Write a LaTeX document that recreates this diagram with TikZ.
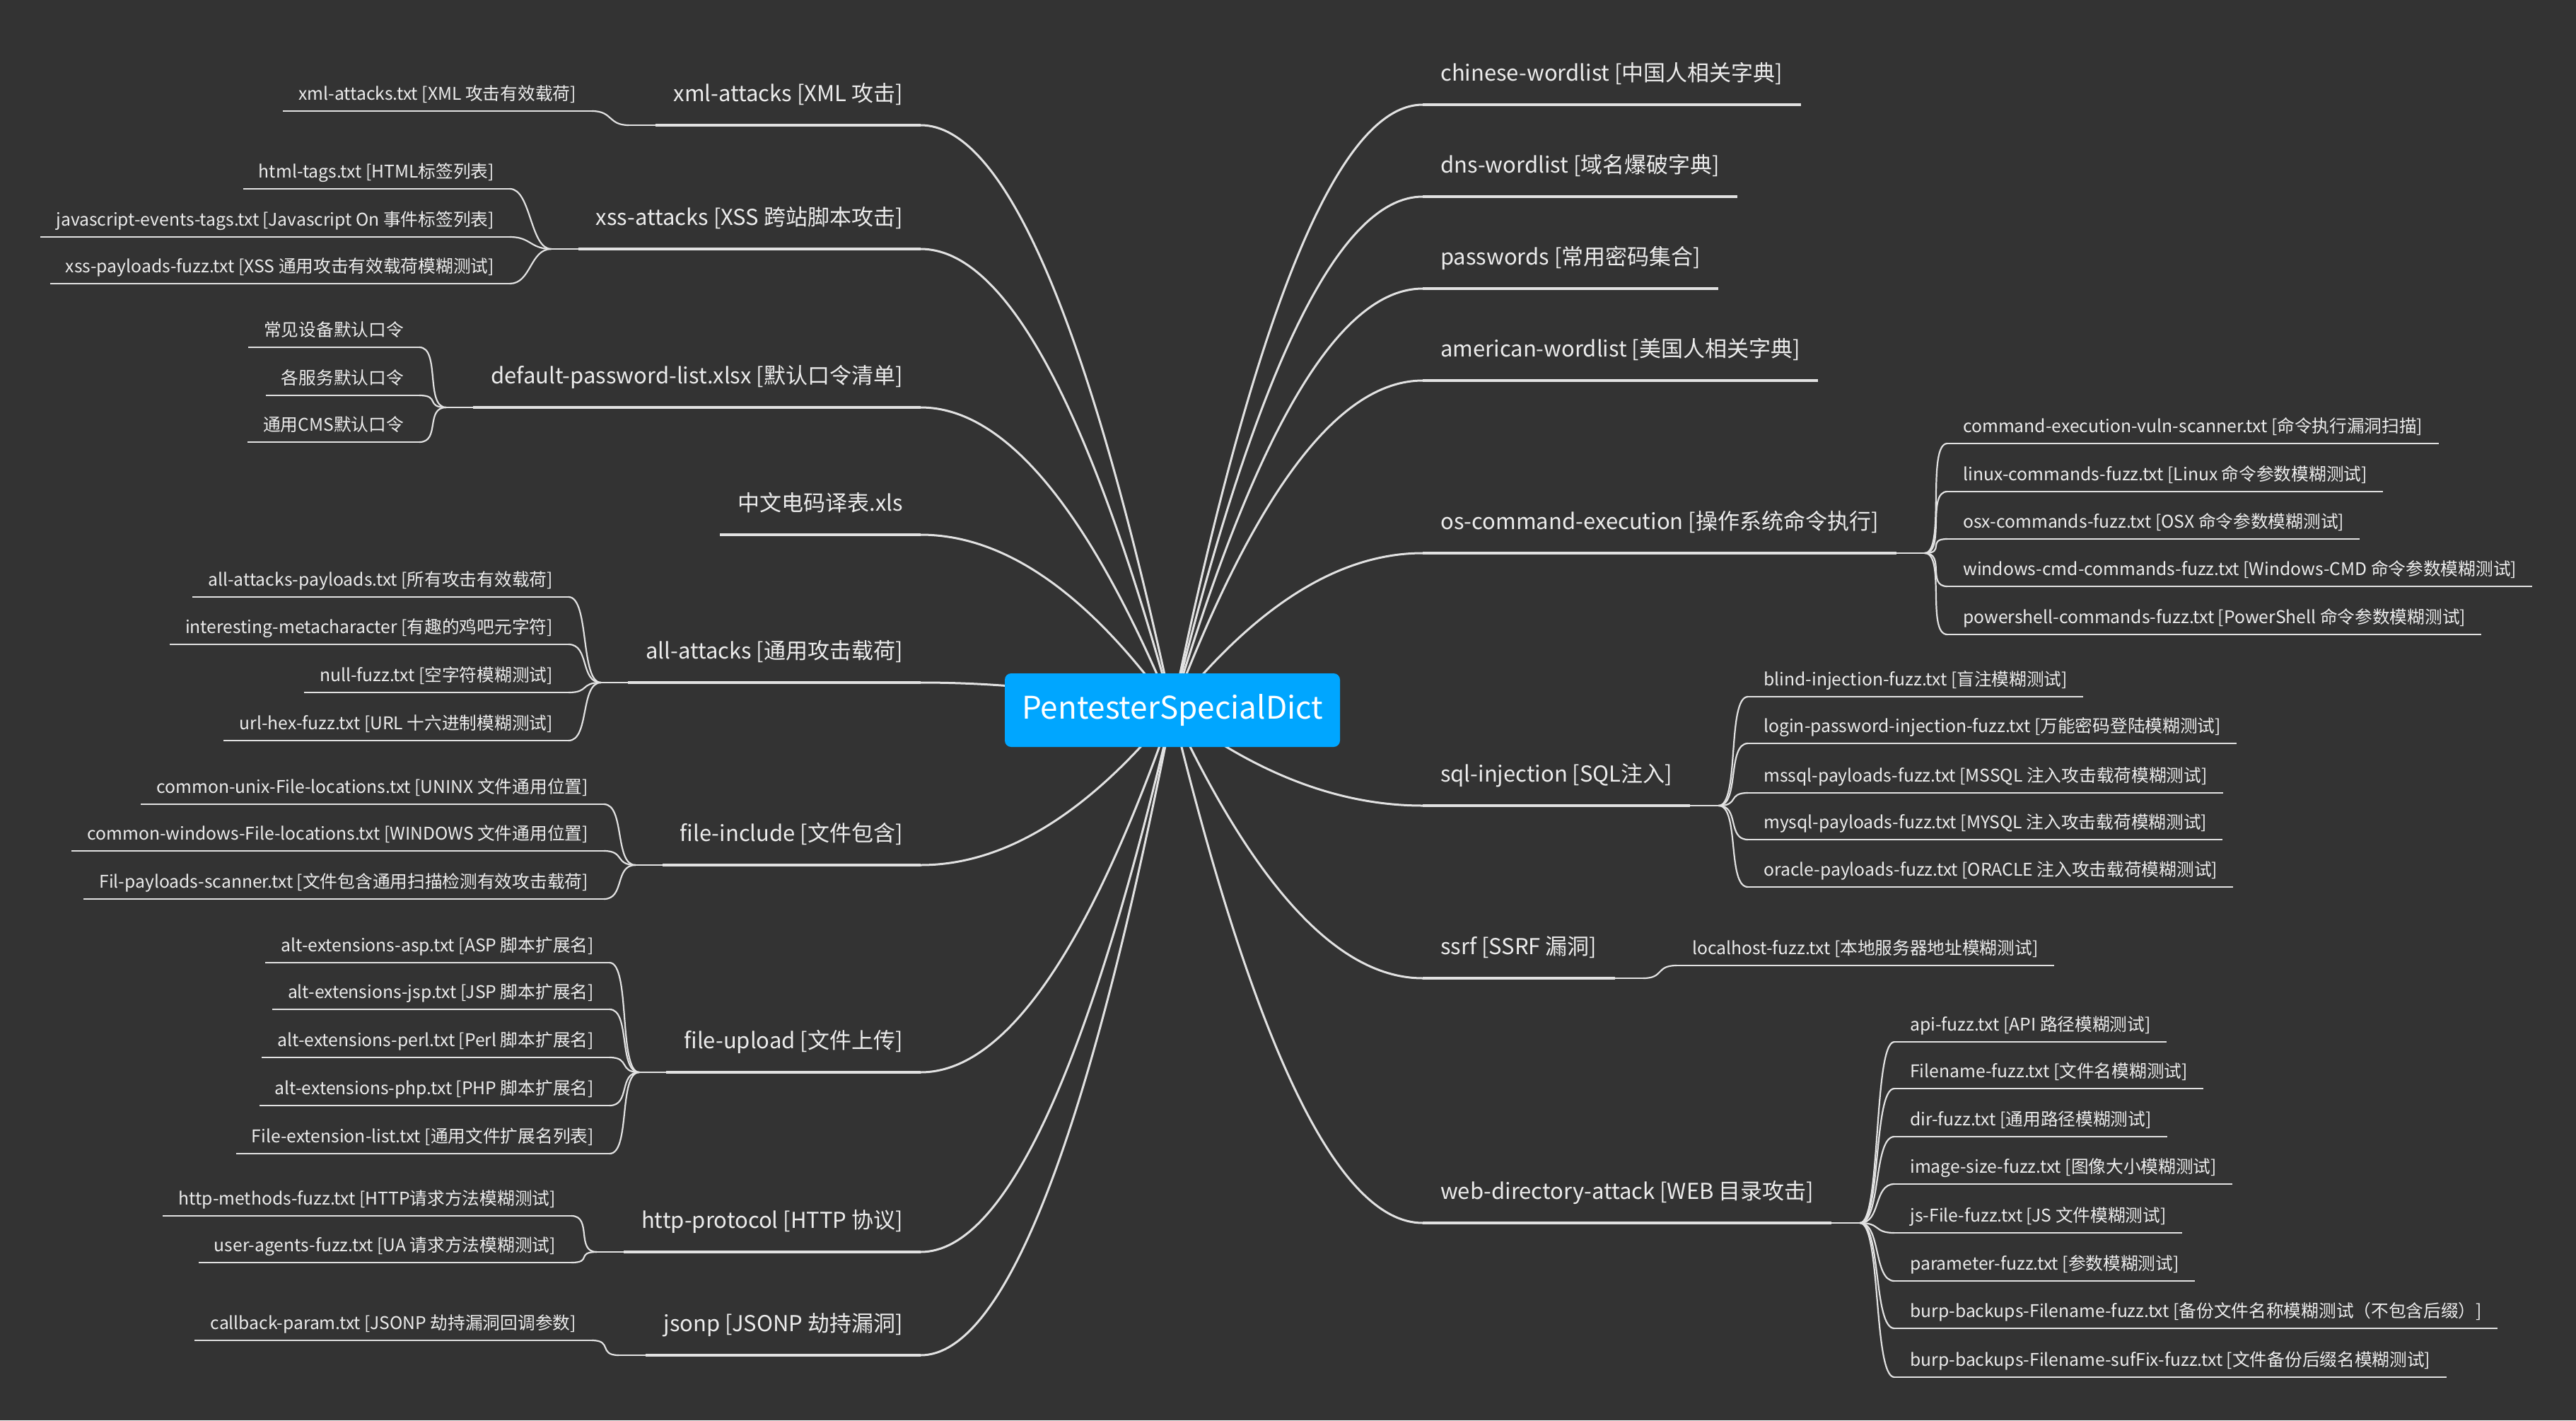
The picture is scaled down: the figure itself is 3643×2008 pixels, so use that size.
\documentclass[tikz,border=0pt]{standalone}
\usepackage{fontspec}
\setmainfont{Noto Sans CJK SC}
\usetikzlibrary{calc,positioning}

\definecolor{canvas}{RGB}{51,51,51}
\definecolor{rootblue}{RGB}{0,166,255}
\definecolor{linegray}{RGB}{226,226,226}
\definecolor{txtgray}{RGB}{236,236,236}

\pgfdeclarelayer{bg}
\pgfsetlayers{bg,main}

\tikzset{
  topic/.style={font=\fontsize{31}{37}\selectfont, text=txtgray, inner xsep=25pt, inner ysep=33pt, text depth=0pt},
  leaf/.style={font=\fontsize{24.7}{30}\selectfont, text=txtgray, inner xsep=22pt, inner ysep=15pt, text depth=0pt},
  mainline/.style={draw=linegray, line width=3.5pt},
  rootline/.style={draw=linegray, line width=3pt},
  leafline/.style={draw=linegray, line width=2.2pt},
}

% curve from the root box to the end of a main topic line
\newcommand\rootlink[1]{%
  \path (#1) coordinate (rl-end);
  \draw[rootline] let \p1=(root.center), \p2=(rl-end) in
    (\p1) .. controls ({\x1+(\x2-\x1)/3},{\y1+2*(\y2-\y1)/3})
    and ({\x2-(\x2-\x1)/3},\y2) .. (\p2);}

\begin{document}
\begin{tikzpicture}[x=1pt,y=-1pt]
  \begin{pgfonlayer}{bg}
    \fill[canvas] (0,0) rectangle (3643,2008);
  \end{pgfonlayer}
  \useasboundingbox (0,0) rectangle (3643,2008);

  \node[fill=rootblue, rounded corners=9pt, text=white, font=\fontsize{44}{53}\selectfont,
        minimum width=474pt, minimum height=104pt, inner sep=0pt] (root) at (1658,1004) {PentesterSpecialDict};

  % left topics
  \node[topic, anchor=south east] (xmlatk) at (1302,177) {xml-attacks [XML 攻击]};
  \node[topic, anchor=south east] (xssatk) at (1302,352) {xss-attacks [XSS 跨站脚本攻击]};
  \node[topic, anchor=south east] (defpw) at (1302,576) {default-password-list.xlsx [默认口令清单]};
  \node[topic, anchor=south east] (dianma) at (1302,756) {中文电码译表.xls};
  \node[topic, anchor=south east] (allatk) at (1302,965) {all-attacks [通用攻击载荷]};
  \node[topic, anchor=south east] (fileinc) at (1302,1223) {file-include [文件包含]};
  \node[topic, anchor=south east] (fileupl) at (1302,1516) {file-upload [文件上传]};
  \node[topic, anchor=south east] (httpp) at (1302,1770) {http-protocol [HTTP 协议]};
  \node[topic, anchor=south east] (jsonp) at (1302,1916) {jsonp [JSONP 劫持漏洞]};

  % right topics
  \node[topic, anchor=south west] (cnwl) at (2012,148) {chinese-wordlist [中国人相关字典]};
  \node[topic, anchor=south west] (dnswl) at (2012,278) {dns-wordlist [域名爆破字典]};
  \node[topic, anchor=south west] (pwds) at (2012,408) {passwords [常用密码集合]};
  \node[topic, anchor=south west] (uswl) at (2012,538) {american-wordlist [美国人相关字典]};
  \node[topic, anchor=south west] (oscmd) at (2012,782) {os-command-execution [操作系统命令执行]};
  \node[topic, anchor=south west] (sqli) at (2012,1139) {sql-injection [SQL注入]};
  \node[topic, anchor=south west] (ssrf) at (2012,1383) {ssrf [SSRF 漏洞]};
  \node[topic, anchor=south west] (webdir) at (2012,1729) {web-directory-attack [WEB 目录攻击]};

  % left leaves
  \node[leaf, anchor=south east] (xmlatk1) at (837,157) {xml-attacks.txt [XML 攻击有效载荷]};
  \node[leaf, anchor=south east] (xssatk1) at (721,267) {html-tags.txt [HTML标签列表]};
  \node[leaf, anchor=south east] (xssatk2) at (721,335) {javascript-events-tags.txt [Javascript On 事件标签列表]};
  \node[leaf, anchor=south east] (xssatk3) at (721,401) {xss-payloads-fuzz.txt [XSS 通用攻击有效载荷模糊测试]};
  \node[leaf, anchor=south east] (defpw1) at (593,491) {常见设备默认口令};
  \node[leaf, anchor=south east] (defpw2) at (593,559) {各服务默认口令};
  \node[leaf, anchor=south east] (defpw3) at (593,625) {通用CMS默认口令};
  \node[leaf, anchor=south east] (allatk1) at (804,844) {all-attacks-payloads.txt [所有攻击有效载荷]};
  \node[leaf, anchor=south east] (allatk2) at (804,911) {interesting-metacharacter [有趣的鸡吧元字符]};
  \node[leaf, anchor=south east] (allatk3) at (804,979) {null-fuzz.txt [空字符模糊测试]};
  \node[leaf, anchor=south east] (allatk4) at (804,1047) {url-hex-fuzz.txt [URL 十六进制模糊测试]};
  \node[leaf, anchor=south east] (fileinc1) at (854,1137) {common-unix-File-locations.txt [UNINX 文件通用位置]};
  \node[leaf, anchor=south east] (fileinc2) at (854,1203) {common-windows-File-locations.txt [WINDOWS 文件通用位置]};
  \node[leaf, anchor=south east] (fileinc3) at (854,1271) {Fil-payloads-scanner.txt [文件包含通用扫描检测有效攻击载荷]};
  \node[leaf, anchor=south east] (fileupl1) at (862,1361) {alt-extensions-asp.txt [ASP 脚本扩展名]};
  \node[leaf, anchor=south east] (fileupl2) at (862,1427) {alt-extensions-jsp.txt [JSP 脚本扩展名]};
  \node[leaf, anchor=south east] (fileupl3) at (862,1495) {alt-extensions-perl.txt [Perl 脚本扩展名]};
  \node[leaf, anchor=south east] (fileupl4) at (862,1563) {alt-extensions-php.txt [PHP 脚本扩展名]};
  \node[leaf, anchor=south east] (fileupl5) at (862,1631) {File-extension-list.txt [通用文件扩展名列表]};
  \node[leaf, anchor=south east] (httpp1) at (808,1719) {http-methods-fuzz.txt [HTTP请求方法模糊测试]};
  \node[leaf, anchor=south east] (httpp2) at (808,1785) {user-agents-fuzz.txt [UA 请求方法模糊测试]};
  \node[leaf, anchor=south east] (jsonp1) at (837,1895) {callback-param.txt [JSONP 劫持漏洞回调参数]};

  % right leaves
  \node[leaf, anchor=south west] (oscmd1) at (2754,627) {command-execution-vuln-scanner.txt [命令执行漏洞扫描]};
  \node[leaf, anchor=south west] (oscmd2) at (2754,695) {linux-commands-fuzz.txt [Linux 命令参数模糊测试]};
  \node[leaf, anchor=south west] (oscmd3) at (2754,762) {osx-commands-fuzz.txt [OSX 命令参数模糊测试]};
  \node[leaf, anchor=south west] (oscmd4) at (2754,829) {windows-cmd-commands-fuzz.txt [Windows-CMD 命令参数模糊测试]};
  \node[leaf, anchor=south west] (oscmd5) at (2754,897) {powershell-commands-fuzz.txt [PowerShell 命令参数模糊测试]};
  \node[leaf, anchor=south west] (sqli1) at (2472,985) {blind-injection-fuzz.txt [盲注模糊测试]};
  \node[leaf, anchor=south west] (sqli2) at (2472,1051) {login-password-injection-fuzz.txt [万能密码登陆模糊测试]};
  \node[leaf, anchor=south west] (sqli3) at (2472,1121) {mssql-payloads-fuzz.txt [MSSQL 注入攻击载荷模糊测试]};
  \node[leaf, anchor=south west] (sqli4) at (2472,1187) {mysql-payloads-fuzz.txt [MYSQL 注入攻击载荷模糊测试]};
  \node[leaf, anchor=south west] (sqli5) at (2472,1254) {oracle-payloads-fuzz.txt [ORACLE 注入攻击载荷模糊测试]};
  \node[leaf, anchor=south west] (ssrf1) at (2371,1365) {localhost-fuzz.txt [本地服务器地址模糊测试]};
  \node[leaf, anchor=south west] (webdir1) at (2679,1473) {api-fuzz.txt [API 路径模糊测试]};
  \node[leaf, anchor=south west] (webdir2) at (2679,1539) {Filename-fuzz.txt [文件名模糊测试]};
  \node[leaf, anchor=south west] (webdir3) at (2679,1607) {dir-fuzz.txt [通用路径模糊测试]};
  \node[leaf, anchor=south west] (webdir4) at (2679,1674) {image-size-fuzz.txt [图像大小模糊测试]};
  \node[leaf, anchor=south west] (webdir5) at (2679,1743) {js-File-fuzz.txt [JS 文件模糊测试]};
  \node[leaf, anchor=south west] (webdir6) at (2679,1811) {parameter-fuzz.txt [参数模糊测试]};
  \node[leaf, anchor=south west] (webdir7) at (2679,1878) {burp-backups-Filename-fuzz.txt [备份文件名称模糊测试（不包含后缀）]};
  \node[leaf, anchor=south west] (webdir8) at (2679,1947) {burp-backups-Filename-sufFix-fuzz.txt [文件备份后缀名模糊测试]};

  % underlines
  \foreach \n in {xmlatk,xssatk,defpw,dianma,allatk,fileinc,fileupl,httpp,jsonp,
                  cnwl,dnswl,pwds,uswl,oscmd,sqli,ssrf,webdir}
    \draw[mainline] (\n.south west) -- (\n.south east);
  \foreach \n in {xmlatk1,xssatk1,xssatk2,xssatk3,defpw1,defpw2,defpw3,
                  allatk1,allatk2,allatk3,allatk4,fileinc1,fileinc2,fileinc3,
                  fileupl1,fileupl2,fileupl3,fileupl4,fileupl5,httpp1,httpp2,jsonp1,
                  oscmd1,oscmd2,oscmd3,oscmd4,oscmd5,sqli1,sqli2,sqli3,sqli4,sqli5,ssrf1,
                  webdir1,webdir2,webdir3,webdir4,webdir5,webdir6,webdir7,webdir8}
    \draw[leafline] (\n.south west) -- (\n.south east);

  % topic -> leaves
  \foreach \m/\k in {xmlatk/1,xssatk/3,defpw/3,allatk/4,fileinc/3,fileupl/5,httpp/2,jsonp/1} {
    \coordinate (\m-j) at ([xshift=-38pt]\m.south west);
    \draw[leafline] (\m.south west) -- (\m-j);
    \foreach \i in {1,...,\k}
      \draw[leafline] (\m-j) .. controls +(-30,0) and +(30,0) .. (\m\i.south east);
  }
  \foreach \m/\k in {oscmd/5,sqli/5,ssrf/1,webdir/8} {
    \coordinate (\m-j) at ([xshift=40pt]\m.south east);
    \draw[leafline] (\m.south east) -- (\m-j);
    \foreach \i in {1,...,\k}
      \draw[leafline] (\m-j) .. controls +(30,0) and +(-30,0) .. (\m\i.south west);
  }

  % root -> topics
  \begin{pgfonlayer}{bg}
    \foreach \n in {xmlatk,xssatk,defpw,dianma,allatk,fileinc,fileupl,httpp,jsonp}
      \rootlink{\n.south east};
    \foreach \n in {cnwl,dnswl,pwds,uswl,oscmd,sqli,ssrf,webdir}
      \rootlink{\n.south west};
  \end{pgfonlayer}
\end{tikzpicture}
\end{document}
